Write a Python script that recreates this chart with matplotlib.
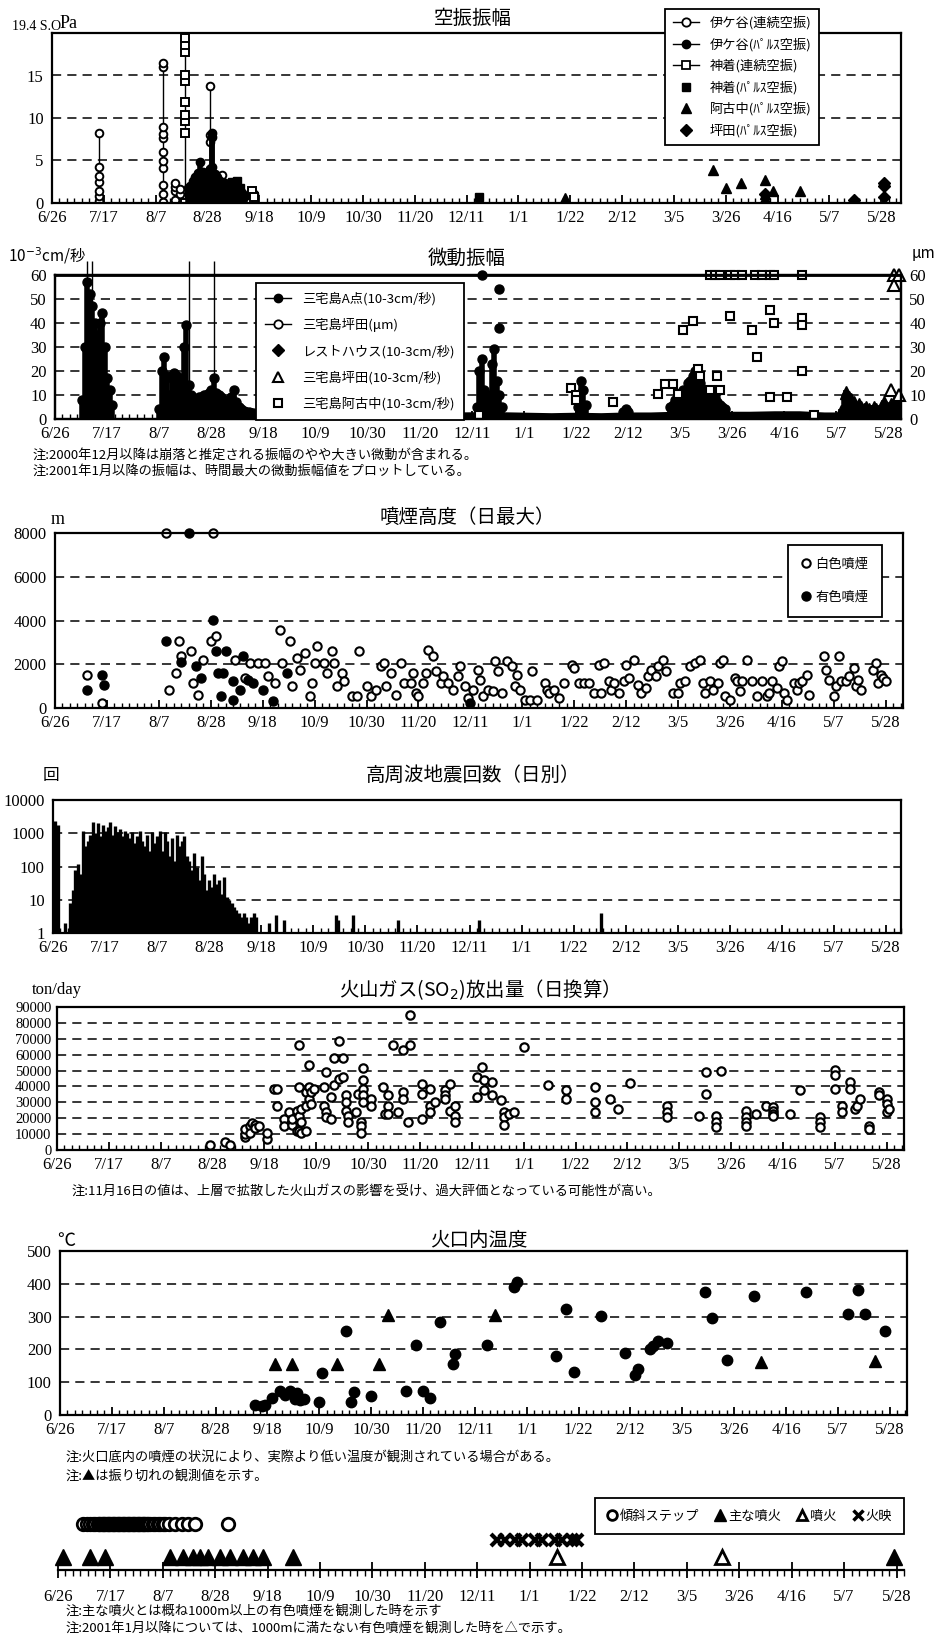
import matplotlib.pyplot as plt
from matplotlib.lines import Line2D
from matplotlib.ticker import MultipleLocator

JP = ['Noto Sans CJK JP', 'DejaVu Sans']
NUM = ['Liberation Serif', 'DejaVu Serif']
plt.rcParams['font.family'] = JP
plt.rcParams['axes.unicode_minus'] = False

# ---------------- data (day = days since 2000-06-26) ----------------
tick_days = list(range(0, 337, 21))
tick_labels = ['6/26', '7/17', '8/7', '8/28', '9/18', '10/9', '10/30', '11/20', '12/11',
               '1/1', '1/22', '2/12', '3/5', '3/26', '4/16', '5/7', '5/28']

# 空振振幅 (Pa)
iga_cont_day = [19, 19, 19, 19, 19, 19, 19,
                45, 45, 45, 45, 45, 45, 45, 45, 45, 45, 45,
                50, 50, 50, 50, 52, 52,
                64, 64, 64, 64, 64, 64, 69, 69, 82]
iga_cont_amp = [8.2, 4.2, 3.2, 2.5, 1.4, 0.8, 0.2,
                16.5, 16.0, 8.9, 8.1, 7.6, 6.0, 4.9, 4.1, 2.1, 1.0, 0.1,
                2.3, 1.9, 1.4, 0.4, 1.7, 1.0,
                13.8, 8.0, 7.2, 4.0, 3.0, 0.3, 3.3, 2.2, 1.0]
iga_pulse_day = [55, 56, 57, 58, 59, 60, 61, 62, 63, 64, 65, 65, 65, 66, 67, 68, 69, 70,
                 71, 72, 73, 74, 75, 76, 77, 78]
iga_pulse_amp = [1.8, 2.0, 2.6, 3.0, 3.5, 4.8, 3.6, 3.2, 3.0, 4.0, 8.2, 7.8, 4.2, 3.4, 3.0,
                 2.6, 2.2, 2.3, 1.8, 1.6, 2.0, 1.5, 1.2, 1.5, 1.2, 0.8]
kami_cont_day = [54, 54, 54, 54, 54, 54, 54, 54, 54, 54, 81, 82]
kami_cont_amp = [19.4, 18.6, 17.8, 15.1, 14.3, 11.9, 10.3, 9.6, 8.2, 0.0, 1.4, 0.7]
kami_pulse_day = [73, 74, 75, 76, 173]
kami_pulse_amp = [2.5, 2.2, 2.6, 1.8, 0.7]
ako_pulse_day = [208, 268, 273, 279, 289, 289, 289, 292, 303]
ako_pulse_amp = [0.6, 3.9, 1.8, 2.4, 2.7, 1.0, 0.6, 1.4, 1.4]
tsu_pulse_day = [289, 325, 337, 337, 337]
tsu_pulse_amp = [1.0, 0.4, 2.4, 2.0, 0.7]

# 微動振幅 (10^-3 cm/s)
a_day = [11, 12, 13, 14, 15, 16, 17, 18, 19, 20, 21, 22, 23,
         42, 43, 44, 45, 46, 47, 48, 49, 50, 51, 52, 53, 54, 55, 56, 57, 58, 59, 60,
         61, 62, 63, 64, 65, 66, 67, 68, 69, 70, 71, 72, 73, 74, 75, 76, 77, 78, 79, 80,
         170, 171, 172, 173, 174, 175, 176, 177, 178, 179, 180,
         211, 212, 213, 214, 229, 230, 231,
         248, 249, 250, 251, 252, 253, 254, 255, 256, 257, 258, 259, 260, 261, 262,
         263, 264, 265, 266, 267, 268, 269, 270]
a_amp = [8, 30, 57, 52, 47, 40, 35, 40, 44, 30, 17, 12, 6,
         4, 20, 26, 18, 10, 17, 19, 18, 13, 16, 30, 39, 14, 10, 8, 8, 9, 9, 10,
         10, 11, 12, 17, 11, 10, 9, 8, 7, 6, 9, 12, 7, 5, 4, 3.5, 3, 3, 2.5, 2.5,
         5, 20, 25, 12, 8, 10, 23, 29, 16, 10, 5,
         5, 16, 12, 6, 3, 4, 3,
         5, 6, 8, 10, 9, 12, 10, 15, 16, 18, 20, 17, 15, 12, 10,
         12, 8, 10, 9, 7, 6, 5, 4]
a_peak_day = [172, 179, 179]
a_peak_amp = [60, 54, 38]
a_over_day = [13, 15, 54, 64]
base_day = [80, 90, 100, 110, 120, 130, 140, 150, 160, 170, 180, 190, 200, 210, 220,
            230, 240, 250, 260, 270, 280, 290, 300, 310, 320, 330, 341]
base_amp = [2.5, 2.2, 2.0, 2.0, 2.2, 2.4, 2.6, 2.5, 2.5, 2.6, 2.6, 2.4, 2.2, 2.4, 2.2,
            2.5, 2.5, 2.8, 3.0, 2.8, 2.8, 3.0, 3.0, 2.5, 2.5, 2.5, 2.5]
tsub_day = [317, 318, 319, 320, 321, 322, 323, 324, 325, 326, 327, 328, 329, 330, 331,
            332, 333, 334, 335, 336, 337, 338, 339, 340]
tsub_amp = [4, 10, 12, 10, 9, 8, 6, 7, 6, 5, 6, 5, 4, 6, 5, 4, 6, 8, 6, 5, 7, 8, 6, 7]
tsub_open_day = [337, 340, 338, 338, 340]
tsub_open_amp = [12, 10, 60, 56, 60]
ako_day = [120, 146, 150, 171, 208, 210, 210, 225, 243, 246, 249, 251, 253, 257, 259, 260,
           264, 267, 268, 272, 281, 283, 288, 288, 290, 295, 301, 301, 301, 306,
           264, 266, 268, 272, 274, 277, 282, 285, 288, 290, 301]
ako_amp = [1.8, 1.8, 1.8, 1.8, 13, 10, 8, 7, 10.5, 14.5, 14.5, 10.5, 37, 41, 21, 18,
           12, 18, 12, 43, 37, 26, 45.5, 9, 40, 9, 42, 39, 20, 1.5,
           60, 60, 60, 60, 60, 60, 60, 60, 60, 60, 60]

# 噴煙高度 (m)
white_day = [13, 19, 45, 64, 46, 49, 50, 51, 55, 56, 58, 60, 63, 65, 73, 77, 79, 82, 85, 86,
             89, 91, 92, 95, 96, 98, 99, 101, 103, 104, 105, 106, 109, 110, 112, 113, 114,
             116, 117, 120, 122, 123, 126, 128, 130, 132, 133, 134, 136, 138, 140, 141, 144,
             145, 146, 147, 149, 150, 151, 153, 154, 156, 157, 159, 161, 163, 164, 166, 167,
             169, 171, 172, 173, 175, 177, 178, 179, 181, 183, 185, 186, 187, 188, 190, 192,
             193, 195, 198, 199, 200, 202, 204, 206, 209, 210, 212, 214, 216, 218, 220, 221,
             222, 224, 225, 226, 228, 230, 231, 232, 234, 236, 237, 239, 240, 241, 243, 244,
             246, 247, 250, 252, 253, 255, 257, 259, 261, 262, 263, 265, 266, 268, 269, 270,
             271, 273, 275, 276, 277, 278, 280, 282, 284, 286, 288, 289, 290, 292, 293, 294,
             295, 296, 299, 300, 301, 302, 304, 305, 311, 312, 313, 315, 316, 317, 318, 320,
             321, 323, 324, 325, 326, 331, 332, 333, 334, 335, 336]
white_h = [1520, 230, 8000, 8000, 840, 1600, 3050, 2360, 2590, 1140, 610, 2210, 3050, 3280,
           2210, 1370, 2060, 2060, 2060, 1450, 1140, 3580, 2060, 3050, 990, 2290, 1750, 2520,
           530, 1140, 2060, 2820, 2060, 1600, 2590, 2060, 990, 1600, 1220, 530, 530, 2590,
           990, 530, 840, 1900, 2060, 990, 1600, 610, 2060, 1140, 1140, 1600, 690, 530, 1140,
           1600, 2670, 2360, 1680, 1140, 1450, 1140, 840, 1450, 1900, 990, 460, 840, 1750,
           1300, 530, 840, 760, 2130, 1680, 690, 2130, 1900, 990, 1520, 840, 380, 380, 1680,
           380, 1140, 840, 690, 840, 460, 1140, 1980, 1830, 1140, 1140, 1140, 690, 1980, 690,
           2060, 1220, 840, 1140, 690, 1220, 1980, 1370, 2210, 1070, 690, 910, 1450, 1750,
           1450, 1900, 2210, 1680, 690, 690, 1140, 1220, 1900, 2060, 2210, 1140, 690, 1220,
           840, 1140, 2060, 2210, 530, 380, 1370, 1220, 760, 1220, 2210, 1220, 530, 1220, 530,
           690, 1220, 910, 1900, 2130, 690, 380, 1140, 840, 1140, 1220, 1520, 610, 2360, 1750,
           1300, 530, 990, 2360, 1220, 1220, 1450, 1830, 990, 1300, 840, 1750, 2060, 1140,
           1520, 1370, 1220]
color_day = [13, 19, 20, 45, 51, 54, 57, 59, 64, 65, 66, 67, 68, 69, 72, 72, 75, 76, 78, 80,
             84, 88, 94, 168]
color_h = [840, 1520, 1070, 3050, 2090, 8000, 1900, 1370, 4040, 2590, 1600, 530, 1600, 2590,
           380, 1220, 840, 2360, 1300, 1140, 840, 300, 1600, 230]

# 高周波地震回数 (日別)
quake_day = list(range(1, 84)) + [87, 90, 93, 114, 115, 121, 139, 172, 221]
quake_n = [2300, 1800, 1, 1, 2, 1, 8, 20, 80, 120, 60, 1200, 400, 600, 900, 2200, 1000, 2000,
           800, 1800, 1200, 1500, 2200, 900, 1600, 1100, 1300, 800, 1200, 1000, 700, 1100, 500,
           800, 1200, 600, 400, 900, 300, 1100, 500, 800, 1200, 300, 1100, 600, 200, 700, 150,
           900, 400, 600, 800, 200, 150, 80, 250, 100, 40, 200, 60, 20, 40, 25, 60, 30, 40,
           15, 50, 12, 10, 8, 6, 5, 4, 3, 4, 3, 2, 3, 4, 3, 1,
           2, 3.5, 2.5, 3.5, 2.5, 3.5, 2.5, 2.5, 4]

# 火山ガス (SO2) 放出量 (ton/day)
so2_day = [62, 68, 70, 76, 76, 76, 78, 78, 79, 80, 80, 82, 85, 85, 88, 89, 89, 92, 92, 94,
           95, 95, 97, 97, 98, 98, 98, 98, 99, 99, 99, 101, 101, 101, 102, 102, 102, 103,
           103, 104, 108, 108, 109, 109, 109, 111, 111, 112, 112, 114, 114, 116, 116, 117,
           117, 117, 118, 118, 121, 122, 123, 123, 123, 124, 124, 124, 124, 124, 127, 127,
           132, 133, 134, 134, 134, 136, 138, 140, 140, 140, 142, 143, 143, 148, 148, 148,
           151, 151, 151, 153, 157, 157, 157, 159, 159, 161, 161, 161, 170, 170, 172, 173,
           173, 176, 176, 180, 181, 181, 181, 183, 185, 189, 199, 206, 206, 218, 218, 218,
           224, 227, 232, 247, 247, 247, 260, 263, 263, 267, 267, 267, 269, 279, 279, 279,
           279, 283, 287, 290, 290, 290, 290, 297, 301, 309, 309, 309, 315, 315, 315, 318,
           318, 321, 321, 323, 324, 325, 329, 329, 333, 333, 336, 336, 336, 337]
so2_t = [3200, 5300, 3200, 7900, 10000, 13000, 15000, 11000, 17000, 16000, 14000, 15000,
         7000, 11000, 38600, 38600, 28000, 19500, 15000, 23800, 16000, 19500, 24800, 12000,
         65800, 39700, 21700, 12000, 25900, 17400, 11000, 12000, 28000, 36500, 53500, 39700,
         32300, 29000, 36500, 38600, 39700, 28000, 49000, 23800, 20600, 33300, 19500, 57700,
         40800, 68400, 45000, 57700, 46000, 34400, 30000, 24800, 21700, 17400, 23800, 35500,
         17400, 15300, 11000, 51400, 44000, 38600, 34400, 30000, 32300, 28000, 39700, 22700,
         34400, 28000, 22700, 65800, 23800, 63000, 36500, 32300, 17400, 85000, 65800, 41800,
         35500, 19500, 38600, 28000, 23800, 30000, 37600, 34400, 32300, 41800, 24800, 28000,
         21700, 17400, 46000, 33300, 52400, 44000, 37600, 42900, 34400, 31200, 23800, 20600,
         16000, 22700, 23800, 65000, 40800, 37600, 32300, 39700, 30000, 23800, 32300, 25900,
         42300, 28000, 23800, 20600, 21700, 49000, 35500, 21700, 17400, 14200, 49700, 24800,
         20600, 17400, 15300, 22700, 28000, 27000, 24800, 22700, 21700, 22700, 38000, 20600,
         17400, 14200, 50300, 47000, 38600, 28000, 23800, 42900, 38600, 25900, 28000, 32300,
         15300, 13000, 36500, 34400, 32300, 29000, 23800, 25900]

# 火口内温度 (℃)
temp_day = [79, 82, 83, 86, 89, 91, 93, 95, 96, 97, 99, 105, 106, 116, 118, 119, 126, 140,
            144, 147, 150, 154, 159, 160, 173, 184, 185, 201, 205, 208, 219, 229, 233, 234,
            239, 240, 242, 246, 261, 264, 270, 281, 302, 319, 323, 326, 334]
temp_c = [31, 26, 29, 53, 74, 60, 72, 50, 67, 46, 49, 39, 128, 255, 39, 69, 58, 72, 214, 72,
          51, 285, 154, 187, 214, 390, 405, 180, 323, 130, 303, 190, 121, 141, 200, 210, 226,
          219, 375, 296, 169, 363, 375, 308, 382, 308, 257]
over_day = [87, 94, 112, 129, 133, 176, 284, 330]
over_c = [156, 156, 156, 156, 306, 306, 161, 166]

# 傾斜ステップ・噴火・火映
tilt_day = [10, 11.5, 13, 14, 15, 16, 16.5, 17, 17.5, 18, 18.5, 19, 19.5, 20, 20.5, 21, 21.5,
            22, 22.5, 23, 23.5, 24, 24.5, 25, 25.5, 26, 26.5, 27, 27.5, 28, 28.5, 29, 29.5,
            30, 30.5, 31, 31.5, 32, 32.5, 33, 33.5, 34, 34.5, 35, 35.5, 36, 37, 38, 39, 40,
            41, 42, 43, 44.5, 47, 49.5, 52, 55, 68]
major_day = [2, 13, 19, 45, 50, 54, 57, 60, 65, 69, 74, 78, 82, 94, 335]
minor_day = [200, 266]
glow_day = [176, 179, 183, 186, 191, 194, 199, 202, 206, 208]

# ---------------- layout helpers (pixel positions of the page) ----------------
W, H = 942, 1642
fig = plt.figure(figsize=(W / 100, H / 100), dpi=100)


def panel(l, t, r, b):
    return fig.add_axes([l / W, 1 - b / H, (r - l) / W, (b - t) / H])


def label(x, y, s, size=14, ha='center', family=JP, **kw):
    fig.text(x / W, 1 - y / H, s, ha=ha, va='center', fontsize=size, family=family, **kw)


def style(ax, xmax, yticks, grid, ylabels=None):
    ax.set_xlim(0, xmax)
    ax.set_xticks(tick_days)
    ax.set_xticklabels(tick_labels, family=NUM, fontsize=12)
    ax.xaxis.set_minor_locator(MultipleLocator(3))
    ax.tick_params(axis='x', which='major', direction='in', length=6, width=1.3, pad=5)
    ax.tick_params(axis='x', which='minor', direction='in', length=3.5, width=1.0)
    ax.set_yticks(yticks)
    ax.set_yticklabels(ylabels if ylabels else [str(v) for v in yticks], family=NUM, fontsize=12)
    ax.tick_params(axis='y', which='both', length=0, pad=6)
    for s in ax.spines.values():
        s.set_linewidth(1.6)
    for v in grid:
        ax.axhline(v, color='k', lw=1.1, ls=(0, (6, 4)), zorder=0.5)


def columns(ax, days, vals, **kw):
    # values observed on the same day are joined by a vertical line
    for d in sorted(set(days)):
        v = sorted(a for dd, a in zip(days, vals) if dd == d)
        ax.plot([d] * len(v), v, color='k', lw=1, **kw)


def legend(handles, labels, x, y, **kw):
    lg = fig.legend(handles, labels, loc='upper left', bbox_to_anchor=(x / W, 1 - y / H),
                    frameon=True, fancybox=False, edgecolor='k', framealpha=1,
                    prop={'family': JP, 'size': 9.5}, **kw)
    lg.get_frame().set_linewidth(1.3)
    return lg


# ---------------- 空振振幅 ----------------
ax1 = panel(52, 33, 901, 203)
style(ax1, 344, [0, 5, 10, 15], [5, 10, 15])
ax1.set_ylim(0, 20)
columns(ax1, iga_cont_day, iga_cont_amp, marker='o', mfc='white', mec='k', ms=5.5, mew=1.4)
columns(ax1, kami_cont_day, kami_cont_amp, marker='s', mfc='white', mec='k', ms=5.5, mew=1.4)
ax1.vlines(iga_pulse_day, 0, iga_pulse_amp, color='k', lw=4)
ax1.plot(iga_pulse_day, iga_pulse_amp, 'o', color='k', ms=6)
ax1.plot(kami_pulse_day, kami_pulse_amp, 's', color='k', ms=6)
ax1.plot(ako_pulse_day, ako_pulse_amp, '^', color='k', ms=7)
ax1.plot(tsu_pulse_day, tsu_pulse_amp, 'D', color='k', ms=6)
label(473, 18, '空振振幅')
label(12, 26, '19.4 S.O', size=10, ha='left', family=NUM)
label(60, 23, 'Pa', size=13, ha='left', family=NUM)
legend([Line2D([], [], color='k', lw=1, marker='o', mfc='white', ms=6, mew=1.3),
        Line2D([], [], color='k', lw=1, marker='o', mfc='k', ms=6),
        Line2D([], [], color='k', lw=1, marker='s', mfc='white', ms=6, mew=1.3),
        Line2D([], [], ls='none', marker='s', color='k', ms=6),
        Line2D([], [], ls='none', marker='^', color='k', ms=7),
        Line2D([], [], ls='none', marker='D', color='k', ms=6)],
       ['伊ケ谷(連続空振)', '伊ケ谷(ﾊﾟﾙｽ空振)', '神着(連続空振)', '神着(ﾊﾟﾙｽ空振)',
        '阿古中(ﾊﾟﾙｽ空振)', '坪田(ﾊﾟﾙｽ空振)'],
       658, 2, labelspacing=0.6, handlelength=2.0, borderpad=0.6)

# ---------------- 微動振幅 ----------------
ax2 = panel(55, 275, 901, 419)
style(ax2, 341, [0, 10, 20, 30, 40, 50, 60], [10, 20, 30, 40, 50])
ax2.set_ylim(0, 60)
ax2.fill_between(base_day, 0, base_amp, color='k', lw=1.5)
ax2.vlines(a_day, 0, a_amp, color='k', lw=4)
ax2.plot(a_day, a_amp, 'o', color='k', ms=6.5)
ax2.plot(a_peak_day, a_peak_amp, 'o', color='k', ms=6.5, clip_on=False)
ax2.vlines(a_over_day, 0, 66, color='k', lw=1, clip_on=False)
ax2.vlines(tsub_day, 0, tsub_amp, color='k', lw=4)
ax2.plot(tsub_day, tsub_amp, '^', color='k', ms=6)
ax2.plot(tsub_open_day, tsub_open_amp, '^', mfc='white', mec='k', mew=1.5, ms=8, clip_on=False)
ax2.plot(ako_day, ako_amp, 's', mfc='white', mec='k', mew=1.5, ms=6, clip_on=False)
ax2.axhline(60, color='k', lw=2)
ax2r = ax2.twinx()
ax2r.set_ylim(0, 60)
ax2r.set_yticks([0, 10, 20, 30, 40, 50, 60])
ax2r.set_yticklabels(['0', '10', '20', '30', '40', '50', '60'], family=NUM, fontsize=12)
ax2r.tick_params(axis='y', length=0, pad=6)
for s in ax2r.spines.values():
    s.set_linewidth(1.6)
label(467, 258, '微動振幅')
label(8, 256, '10$^{-3}$cm/秒', size=11, ha='left')
label(912, 253, 'μm', size=11, ha='left')
legend([Line2D([], [], color='k', lw=1, marker='o', ms=6),
        Line2D([], [], color='k', lw=1, marker='o', mfc='white', ms=6, mew=1.3),
        Line2D([], [], ls='none', marker='D', color='k', ms=6),
        Line2D([], [], ls='none', marker='^', mfc='white', mec='k', ms=7, mew=1.5),
        Line2D([], [], ls='none', marker='s', mfc='white', mec='k', ms=6, mew=1.5)],
       ['三宅島A点(10-3cm/秒)', '三宅島坪田(μm)', 'レストハウス(10-3cm/秒)',
        '三宅島坪田(10-3cm/秒)', '三宅島阿古中(10-3cm/秒)'],
       249, 276, labelspacing=0.95, handlelength=2.0, borderpad=0.7)
label(33, 455, '注:2000年12月以降は崩落と推定される振幅のやや大きい微動が含まれる。', size=9.5, ha='left')
label(33, 471, '注:2001年1月以降の振幅は、時間最大の微動振幅値をプロットしている。', size=9.5, ha='left')

# ---------------- 噴煙高度 ----------------
ax3 = panel(55, 533, 903, 708)
style(ax3, 343, [0, 2000, 4000, 6000, 8000], [2000, 4000, 6000])
ax3.set_ylim(0, 8000)
ax3.plot(white_day, white_h, 'o', mfc='white', mec='k', mew=1.5, ms=6, clip_on=False)
ax3.plot(color_day, color_h, 'o', color='k', ms=6.5, clip_on=False)
label(467, 517, '噴煙高度（日最大）')
label(58, 520, 'm', size=13, family=NUM)
legend([Line2D([], [], ls='none', marker='o', mfc='white', mec='k', mew=1.5, ms=6),
        Line2D([], [], ls='none', marker='o', color='k', ms=6.5)],
       ['白色噴煙', '有色噴煙'], 781, 538, labelspacing=1.5, handlelength=0.8,
       handletextpad=0.3, borderpad=1.0)

# ---------------- 高周波地震回数 ----------------
ax4 = panel(53, 800, 901, 933)
ax4.set_yscale('log')
ax4.set_ylim(1, 10000)
style(ax4, 342, [1, 10, 100, 1000, 10000], [10, 100, 1000])
ax4.yaxis.set_minor_locator(plt.NullLocator())
ax4.vlines(quake_day, 1, quake_n, color='k', lw=2.4)
label(473, 775, '高周波地震回数（日別）')
label(51, 775, '回', size=12)

# ---------------- 火山ガス ----------------
ax5 = panel(57, 1007, 904, 1150)
ticks5 = [0, 10000, 20000, 30000, 40000, 50000, 60000, 70000, 80000, 90000]
style(ax5, 343, ticks5, ticks5[1:-1])
ax5.set_ylim(0, 90000)
ax5.tick_params(axis='y', labelsize=10.5, pad=4)
ax5.plot(so2_day, so2_t, 'o', mfc='white', mec='k', mew=1.6, ms=6)
label(474, 990, '火山ガス(SO$_2$)放出量（日換算）')
label(57, 990, 'ton/day', size=12, family=NUM)
label(72, 1192, '注:11月16日の値は、上層で拡散した火山ガスの影響を受け、過大評価となっている可能性が高い。',
      size=9.5, ha='left')

# ---------------- 火口内温度 ----------------
ax6 = panel(60, 1251, 907, 1415)
style(ax6, 343, [0, 100, 200, 300, 400, 500], [100, 200, 300, 400])
ax6.set_ylim(0, 500)
ax6.plot(temp_day, temp_c, 'o', color='k', ms=7.5)
ax6.plot(over_day, over_c, '^', color='k', ms=8)
label(479, 1240, '火口内温度')
label(66, 1241, '℃', size=13)
label(66, 1457, '注:火口底内の噴煙の状況により、実際より低い温度が観測されている場合がある。', size=9.5, ha='left')
label(66, 1476, '注:▲は振り切れの観測値を示す。', size=9.5, ha='left')

# ---------------- 傾斜ステップ・噴火 ----------------
ax7 = panel(58, 1480, 904, 1570)
ax7.set_xlim(0, 339)
ax7.set_ylim(0, 1)
for s in ['left', 'right', 'top']:
    ax7.spines[s].set_visible(False)
ax7.spines['bottom'].set_linewidth(1.6)
ax7.set_yticks([])
ax7.set_xticks(tick_days)
ax7.set_xticklabels(tick_labels, family=NUM, fontsize=12)
ax7.xaxis.set_minor_locator(MultipleLocator(3))
ax7.tick_params(axis='x', which='major', direction='inout', length=12, width=1.3, pad=8)
ax7.tick_params(axis='x', which='minor', direction='out', length=4, width=1.0)
ax7.plot(tilt_day, [0.51] * len(tilt_day), 'o', mfc='white', mec='k', mew=2, ms=9)
ax7.plot(major_day, [0.15] * len(major_day), '^', color='k', ms=11, clip_on=False)
ax7.plot(minor_day, [0.15] * len(minor_day), '^', mfc='white', mec='k', mew=2, ms=10)
ax7.plot(glow_day, [0.33] * len(glow_day), 'x', color='k', mew=3, ms=9)
legend([Line2D([], [], ls='none', marker='o', mfc='white', mec='k', mew=2, ms=7),
        Line2D([], [], ls='none', marker='^', color='k', ms=8),
        Line2D([], [], ls='none', marker='^', mfc='white', mec='k', mew=2, ms=7),
        Line2D([], [], ls='none', marker='x', color='k', mew=2.5, ms=7)],
       ['傾斜ステップ', '主な噴火', '噴火', '火映'], 588, 1491, ncol=4,
       handlelength=0.8, handletextpad=0.2, columnspacing=1.2, borderpad=0.9)
label(66, 1611, '注:主な噴火とは概ね1000m以上の有色噴煙を観測した時を示す', size=9.5, ha='left')
label(66, 1628, '注:2001年1月以降については、1000mに満たない有色噴煙を観測した時を△で示す。', size=9.5, ha='left')

plt.savefig('out.png', dpi=100)
